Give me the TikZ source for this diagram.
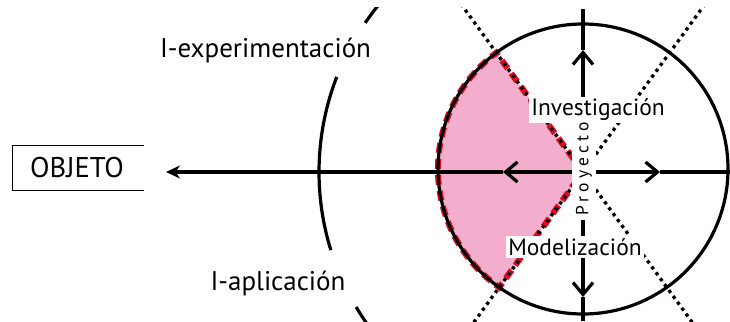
\documentclass[tikz,border=0pt]{standalone}
\usepackage{fontspec}
\setmainfont{PT Sans}
\usetikzlibrary{arrows.meta}
\definecolor{pinkfill}{RGB}{243,174,206}
\definecolor{reddash}{RGB}{225,10,30}
\begin{document}
\begin{tikzpicture}[x=1pt,y=-1pt,
  axis/.style={line width=3.2pt},
  vtip/.style={-{Straight Barb[length=12pt,width=20pt]}},
  dotline/.style={line width=3.3pt,dash pattern=on 3.3pt off 4pt},
  reddashed/.style={draw=reddash,line width=6pt,dash pattern=on 10pt off 6pt},
  lab/.style={font=\fontsize{23.5}{27}\selectfont,fill=white,inner sep=2.5pt},
  sidelab/.style={font=\fontsize{27}{31}\selectfont,anchor=base,inner sep=0pt}]
\useasboundingbox (0,0) rectangle (730,321);
\fill[white] (0,0) rectangle (730,321);
\coordinate (c) at (583,172);
\coordinate (cc) at (583,169);
\begin{scope}
\clip (0,8) rectangle (730,321);
% pink sector
\fill[pinkfill] (c) -- (496.3,52.8) arc[start angle=233.3,end angle=125.3,radius=145] -- cycle;
\draw[reddashed] (c) -- (496.3,52.8) arc[start angle=233.3,end angle=125.3,radius=145] -- cycle;
% circle
\draw[axis] (cc) circle[radius=145];
% big arc pieces
\draw[axis] (c) ++(219:264) arc[start angle=219,end angle=214.4,radius=264];
\draw[axis] (c) ++(201.1:264) arc[start angle=201.1,end angle=162.8,radius=264];
\draw[axis] (c) ++(149.25:264) arc[start angle=149.25,end angle=143,radius=264];
% diagonals
\draw[dotline] (c) -- ++(234:220);
\draw[dotline] (c) -- ++(306:220);
\draw[dotline] (c) -- ++(126:220);
\draw[dotline] (c) -- ++(54:220);
% axes
\coordinate (top) at (583,9);
\coordinate (bot) at (583,321);
\coordinate (rend) at (730,172);
\coordinate (aup) at (583,50);
\coordinate (adown) at (583,297);
\coordinate (aleft) at (503,172);
\coordinate (aright) at (660,172);
\draw[axis,vtip] (c) -- (aup);
\draw[axis] (aup) -- (top);
\draw[axis,vtip] (c) -- (adown);
\draw[axis] (adown) -- (bot);
\draw[axis,vtip] (c) -- (aright);
\draw[axis] (aright) -- (rend);
\end{scope}
% OBJETO box
\node[font=\fontsize{28.5}{32}\selectfont,inner sep=0pt] (obj) at (77,168) {OBJETO};
\draw[line width=1pt] (144,145) -- (12.5,145) -- (12.5,190) -- (144,190);
\coordinate (objtip) at (166,172);
\draw[axis,vtip] (c) -- (aleft);
\draw[axis,-{Stealth[length=14pt,width=13pt]}] (aleft) -- (objtip);
% labels
\node[lab] (inv) at (598,110) {Investigación};
\node[lab] (mod) at (575,247) {Modelización};
\node[font=\fontsize{17.5}{20}\selectfont\addfontfeature{LetterSpace=24},fill=white,rotate=90,inner xsep=4pt,inner ysep=0pt,minimum height=24pt,minimum width=98pt] (proy) at (584,169) {Proyecto};
\node[sidelab] (iexp) at (265.5,58) {I-experimentación};
\node[sidelab] (iapl) at (278,290) {I-aplicación};
\end{tikzpicture}
\end{document}
